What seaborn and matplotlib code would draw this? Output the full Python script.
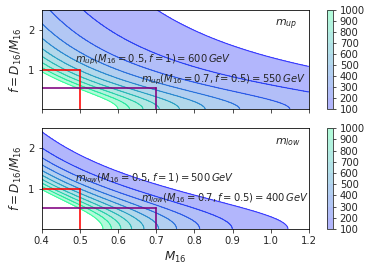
import numpy as np
import matplotlib
matplotlib.use("Agg")
import matplotlib.pyplot as plt
import seaborn as sns

# --- data ---
levels = [100, 200, 300, 400, 500, 600, 700, 800, 900, 1000]
x_ticks = [0.4, 0.5, 0.6, 0.7, 0.8, 0.9, 1.0, 1.1]
x_ticklabels = ["0.4", "0.5", "0.6", "0.7", "0.8", "0.9", "1.0", "1.2"]

# fitted surfaces
# m_up  = m0 * (M16/M0)^(-c) * (1 + (f/f0)^2)^(-b/2)
up_params = [1000.0, 0.6, 2.15, 0.566, 1.3]
# m_low = exp(a - k * sqrt(M16^2 + D16^2))
low_params = [9.57, 4.75]

# benchmark points (M16, f)
bench_red = [0.5, 1.0]
bench_purple_up = [0.7, 0.55]
bench_purple_low = [0.7, 0.52]

up_texts = [r"$m_{up}(M_{16}=0.5,f=1)=600\,GeV$",
            r"$m_{up}(M_{16}=0.7,f=0.5)=550\,GeV$"]
low_texts = [r"$m_{low}(M_{16}=0.5,f=1)=500\,GeV$",
             r"$m_{low}(M_{16}=0.7,f=0.5)=400\,GeV$"]


def m_up(M, F):
    m0, M0, c, f0, b = up_params
    return m0 * (M / M0) ** (-c) * (1 + (F / f0) ** 2) ** (-b / 2)


def m_low(M, F):
    a, k = low_params
    return np.exp(a - k * np.sqrt(M**2 + (F * M) ** 2))


sns.set_style("ticks")
plt.rcParams["font.family"] = ["DejaVu Sans"]
plt.rcParams["mathtext.fontset"] = "dejavusans"

m16 = np.linspace(0.4, 1.1, 300)
ff = np.linspace(0.0, 2.5, 300)
M, F = np.meshgrid(m16, ff)

fig = plt.figure(figsize=(369 / 72, 271 / 72), dpi=72)
ax_up = fig.add_axes([0.113, 0.596, 0.724, 0.367])
ax_low = fig.add_axes([0.113, 0.155, 0.724, 0.372])
cax_up = fig.add_axes([0.886, 0.596, 0.017, 0.367])
cax_low = fig.add_axes([0.886, 0.155, 0.017, 0.372])

panels = [(ax_up, cax_up, m_up(M, F), up_texts, r"$m_{up}$", bench_purple_up),
          (ax_low, cax_low, m_low(M, F), low_texts, r"$m_{low}$", bench_purple_low)]

for ax, cax, Z, texts, name, bp in panels:
    cf = ax.contourf(M, F, Z, levels=levels, cmap="winter", alpha=0.3)
    ax.contour(M, F, Z, levels=levels, cmap="winter", alpha=0.7, linewidths=1.1)
    cb = fig.colorbar(cf, cax=cax, ticks=levels)
    cb.ax.tick_params(labelsize=10, length=3)
    cb.outline.set_linewidth(0.8)

    # benchmark lines
    ax.plot([0.4, bench_red[0]], [bench_red[1], bench_red[1]], color="red", alpha=0.8, lw=2)
    ax.plot([bench_red[0], bench_red[0]], [0, bench_red[1]], color="red", alpha=0.8, lw=2)
    ax.plot([0.4, bp[0]], [bp[1], bp[1]], color="purple", alpha=0.8, lw=2)
    ax.plot([bp[0], bp[0]], [0, bp[1]], color="purple", alpha=0.8, lw=2)

    ax.text(0.487, 1.19, texts[0], fontsize=10)
    ax.text(0.66, 0.68, texts[1], fontsize=10)
    ax.text(1.01, 2.1, name, fontsize=11)

    ax.set_xlim(0.4, 1.1)
    ax.set_ylim(0, 2.5)
    ax.set_yticks([1, 2])
    ax.set_xticks(x_ticks)
    ax.set_ylabel(r"$f=D_{16}/M_{16}$", fontsize=12)
    for s in ax.spines.values():
        s.set_color("black")

ax_up.set_xticklabels([])
ax_low.set_xticklabels(x_ticklabels)
ax_low.set_xlabel(r"$M_{16}$", fontsize=12)

fig.savefig("out.png", dpi=72)
